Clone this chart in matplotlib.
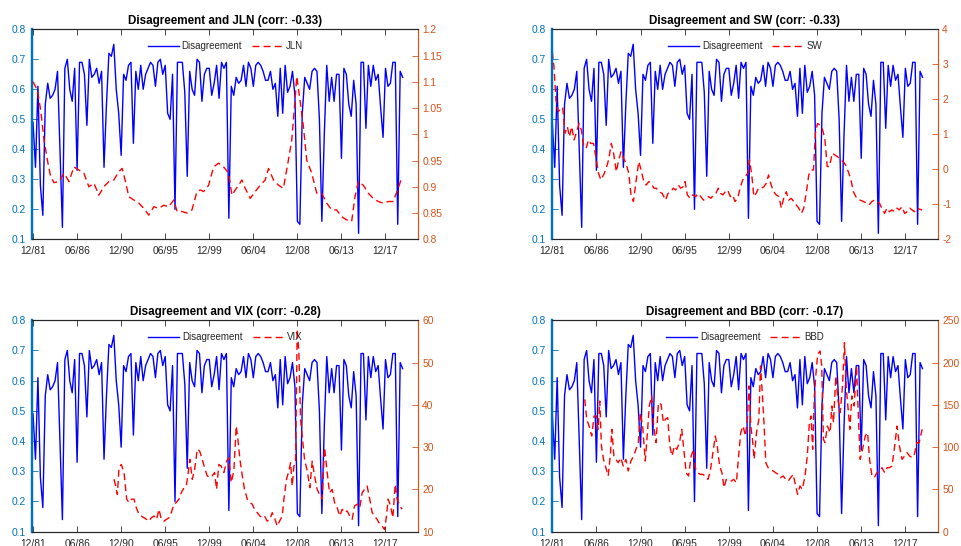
import numpy as np
import matplotlib
matplotlib.use("Agg")
import matplotlib.pyplot as plt
from matplotlib.ticker import FixedLocator, FuncFormatter

plt.rcParams['font.family'] = ['Liberation Sans', 'DejaVu Sans']

# ---- data -------------------------------------------------------------
# Quarterly disagreement index, starting December 1981
disagreement_start = 1981.917
disagreement = [
    0.49, 0.34, 0.61, 0.28, 0.18, 0.55, 0.62, 0.57, 0.58, 0.60,
    0.66, 0.40, 0.14, 0.67, 0.70, 0.60, 0.56, 0.67, 0.33, 0.69,
    0.69, 0.65, 0.48, 0.70, 0.64, 0.65, 0.67, 0.62, 0.66, 0.34,
    0.55, 0.72, 0.71, 0.75, 0.60, 0.52, 0.38, 0.65, 0.63, 0.68,
    0.69, 0.42, 0.66, 0.60, 0.68, 0.60, 0.65, 0.67, 0.69, 0.68,
    0.61, 0.69, 0.70, 0.65, 0.68, 0.52, 0.50, 0.65, 0.20, 0.69,
    0.69, 0.69, 0.59, 0.31, 0.66, 0.60, 0.58, 0.70, 0.69, 0.56,
    0.65, 0.67, 0.67, 0.58, 0.62, 0.68, 0.57, 0.69, 0.67, 0.69,
    0.17, 0.61, 0.58, 0.64, 0.62, 0.63, 0.68, 0.61, 0.69, 0.67,
    0.61, 0.68, 0.69, 0.68, 0.66, 0.63, 0.63, 0.66, 0.60, 0.62,
    0.51, 0.67, 0.52, 0.68, 0.59, 0.61, 0.66, 0.58, 0.16, 0.15,
    0.52, 0.64, 0.62, 0.60, 0.66, 0.67, 0.66, 0.50, 0.16, 0.45,
    0.68, 0.56, 0.64, 0.56, 0.65, 0.65, 0.37, 0.67, 0.65, 0.55,
    0.51, 0.63, 0.55, 0.12, 0.69, 0.69, 0.47, 0.68, 0.61, 0.68,
    0.63, 0.65, 0.54, 0.44, 0.67, 0.61, 0.62, 0.69, 0.69, 0.15,
    0.66, 0.64,
]

jln_dates = [
    1981.92, 1982.36, 1982.70, 1983.04, 1983.38, 1983.72, 1984.06, 1984.57,
    1985.08, 1985.59, 1986.09, 1986.60, 1987.11, 1987.62, 1988.13, 1988.64,
    1989.15, 1989.66, 1990.17, 1990.68, 1991.02, 1991.36, 1991.70, 1992.21,
    1992.72, 1993.23, 1993.74, 1994.25, 1994.76, 1995.27, 1995.78, 1996.29,
    1996.63, 1997.13, 1997.64, 1998.15, 1998.66, 1999.00, 1999.34, 1999.85,
    2000.36, 2000.87, 2001.38, 2001.89, 2002.23, 2002.57, 2002.91, 2003.25,
    2003.59, 2004.10, 2004.61, 2005.12, 2005.63, 2005.97, 2006.48, 2006.99,
    2007.49, 2008.00, 2008.34, 2008.68, 2008.85, 2009.19, 2009.53, 2009.87,
    2010.38, 2010.89, 2011.40, 2011.91, 2012.42, 2012.93, 2013.44, 2013.95,
    2014.46, 2014.80, 2015.14, 2015.65, 2016.16, 2016.66, 2017.17, 2017.68,
    2018.19, 2018.70, 2019.21, 2019.55,
]
jln = [
    1.100, 1.084, 1.046, 0.989, 0.951, 0.919, 0.908, 0.910,
    0.926, 0.910, 0.938, 0.932, 0.926, 0.900, 0.907, 0.884,
    0.900, 0.910, 0.913, 0.929, 0.935, 0.910, 0.881, 0.875,
    0.869, 0.859, 0.846, 0.862, 0.859, 0.865, 0.862, 0.875,
    0.853, 0.853, 0.850, 0.856, 0.891, 0.894, 0.891, 0.903,
    0.938, 0.945, 0.938, 0.926, 0.884, 0.894, 0.903, 0.913,
    0.897, 0.878, 0.891, 0.903, 0.913, 0.935, 0.913, 0.903,
    0.897, 0.951, 0.989, 1.065, 1.110, 1.065, 1.015, 0.951,
    0.926, 0.888, 0.888, 0.869, 0.856, 0.856, 0.843, 0.837,
    0.834, 0.881, 0.910, 0.903, 0.888, 0.878, 0.872, 0.869,
    0.872, 0.872, 0.897, 0.916,
]

sw_dates = [
    1981.92, 1982.09, 1982.29, 1982.53, 1982.77, 1982.98, 1983.22, 1983.46,
    1983.66, 1983.90, 1984.14, 1984.41, 1984.65, 1984.89, 1985.13, 1985.37,
    1985.61, 1985.85, 1986.12, 1986.36, 1986.63, 1986.87, 1987.15, 1987.42,
    1987.66, 1987.94, 1988.17, 1988.45, 1988.69, 1988.93, 1989.20, 1989.44,
    1989.71, 1989.95, 1990.19, 1990.43, 1990.74, 1990.98, 1991.25, 1991.49,
    1991.76, 1992.00, 1992.28, 1992.52, 1992.79, 1993.13, 1993.47, 1993.71,
    1993.98, 1994.26, 1994.50, 1994.77, 1995.01, 1995.25, 1995.46, 1995.69,
    1995.97, 1996.24, 1996.55, 1996.79, 1997.06, 1997.34, 1997.58, 1997.85,
    1998.09, 1998.36, 1998.60, 1998.84, 1999.08, 1999.32, 1999.56, 1999.80,
    2000.07, 2000.31, 2000.55, 2000.82, 2001.10, 2001.34, 2001.58, 2001.85,
    2002.02, 2002.26, 2002.47, 2002.70, 2002.94, 2003.22, 2003.49, 2003.73,
    2003.97, 2004.24, 2004.48, 2004.75, 2005.03, 2005.27, 2005.51, 2005.78,
    2006.02, 2006.29, 2006.53, 2006.81, 2007.05, 2007.32, 2007.56, 2007.83,
    2008.07, 2008.34, 2008.55, 2008.75, 2008.96, 2009.20, 2009.44, 2009.71,
    2009.95, 2010.19, 2010.46, 2010.74, 2011.01, 2011.28, 2011.59, 2011.83,
    2012.10, 2012.34, 2012.62, 2012.96, 2013.30, 2013.64, 2013.98, 2014.22,
    2014.50, 2014.77, 2015.04, 2015.28, 2015.52, 2015.80, 2016.04, 2016.28,
    2016.55, 2016.82, 2017.06, 2017.30, 2017.58, 2017.85, 2018.09, 2018.36,
    2018.60, 2018.84, 2019.11, 2019.35, 2019.63,
]
sw = [
    3.36, 2.93, 1.98, 1.65, 1.74, 1.77, 1.03, 1.22,
    0.93, 1.22, 0.84, 1.08, 1.31, 1.12, 0.65, 0.60,
    0.84, 0.74, 0.74, 0.36, -0.11, -0.30, -0.16, 0.03,
    0.27, 0.74, 0.46, -0.07, 0.27, 0.50, 0.31, 0.17,
    -0.11, -0.73, -0.92, -0.40, 0.22, -0.02, -0.35, -0.45,
    -0.35, -0.40, -0.54, -0.54, -0.64, -0.69, -0.88, -0.69,
    -0.64, -0.54, -0.59, -0.45, -0.54, -0.50, -0.35, -0.73,
    -0.83, -0.73, -0.78, -0.69, -0.78, -0.88, -0.83, -0.78,
    -0.83, -0.73, -0.69, -0.54, -0.69, -0.73, -0.64, -0.59,
    -0.78, -0.73, -0.92, -0.83, -0.50, -0.30, -0.21, -0.11,
    0.27, -0.16, -0.78, -0.69, -0.54, -0.54, -0.50, -0.40,
    -0.16, -0.45, -0.64, -0.73, -0.78, -1.11, -0.83, -0.64,
    -0.88, -0.83, -0.92, -1.02, -1.11, -1.26, -1.11, -0.64,
    -0.16, -0.02, -0.02, 1.03, 1.31, 1.26, 1.17, 0.88,
    0.08, 0.08, 0.46, 0.41, 0.36, 0.27, 0.22, 0.12,
    -0.07, -0.26, -0.64, -0.83, -0.88, -0.92, -0.97, -1.02,
    -0.92, -0.88, -0.92, -0.97, -1.11, -1.26, -1.11, -1.21,
    -1.16, -1.21, -1.11, -1.16, -1.07, -1.26, -1.21, -1.11,
    -1.16, -1.21, -1.11, -1.14, -1.16,
]

vix_dates = [
    1990.19, 1990.36, 1990.53, 1990.70, 1990.93, 1991.21, 1991.48, 1991.72,
    1991.99, 1992.23, 1992.46, 1992.74, 1992.98, 1993.25, 1993.52, 1993.76,
    1994.00, 1994.27, 1994.54, 1994.78, 1995.02, 1995.29, 1995.53, 1995.80,
    1996.04, 1996.31, 1996.55, 1996.82, 1997.06, 1997.33, 1997.57, 1997.77,
    1997.94, 1998.18, 1998.42, 1998.69, 1998.93, 1999.20, 1999.44, 1999.71,
    1999.98, 2000.22, 2000.46, 2000.66, 2000.90, 2001.14, 2001.41, 2001.69,
    2001.92, 2002.16, 2002.43, 2002.67, 2002.84, 2003.05, 2003.29, 2003.52,
    2003.80, 2004.07, 2004.31, 2004.54, 2004.82, 2005.09, 2005.33, 2005.56,
    2005.84, 2006.11, 2006.35, 2006.58, 2006.86, 2007.10, 2007.37, 2007.54,
    2007.81, 2008.05, 2008.22, 2008.39, 2008.56, 2008.73, 2008.90, 2009.07,
    2009.24, 2009.41, 2009.65, 2009.92, 2010.19, 2010.43, 2010.67, 2010.94,
    2011.18, 2011.45, 2011.69, 2011.96, 2012.20, 2012.47, 2012.71, 2012.98,
    2013.25, 2013.49, 2013.73, 2014.00, 2014.27, 2014.51, 2014.75, 2015.02,
    2015.29, 2015.53, 2015.77, 2016.04, 2016.31, 2016.55, 2016.79, 2017.06,
    2017.34, 2017.58, 2017.81, 2018.02, 2018.19, 2018.43, 2018.67, 2018.91,
    2019.11, 2019.38, 2019.62,
]
vix = [
    22.4, 20.8, 18.8, 25.1, 25.9, 24.0, 17.7, 16.9,
    17.7, 17.7, 15.7, 14.1, 13.7, 13.3, 12.9, 12.5,
    13.3, 13.7, 12.9, 15.3, 12.9, 12.5, 12.9, 13.3,
    14.5, 16.5, 16.9, 17.7, 19.2, 20.4, 20.8, 24.0,
    27.1, 22.4, 24.7, 29.5, 29.1, 27.1, 25.1, 23.2,
    22.8, 23.2, 24.0, 20.0, 25.9, 25.5, 24.0, 26.7,
    27.5, 21.6, 24.4, 35.0, 31.8, 27.1, 23.2, 20.0,
    17.7, 16.9, 16.5, 15.3, 14.5, 13.7, 13.3, 13.7,
    12.5, 12.9, 14.5, 13.3, 11.3, 12.5, 13.7, 17.7,
    22.4, 24.4, 26.3, 20.8, 25.5, 26.3, 57.9, 52.4,
    36.6, 32.6, 27.1, 24.4, 20.4, 26.7, 23.2, 20.0,
    18.8, 17.7, 29.9, 24.0, 19.2, 20.0, 16.9, 15.7,
    13.7, 15.3, 14.5, 14.9, 13.7, 12.9, 16.1, 16.5,
    15.7, 19.2, 20.0, 20.8, 17.7, 14.5, 13.7, 12.9,
    11.7, 11.3, 10.5, 13.7, 17.7, 16.1, 13.3, 21.2,
    17.7, 16.1, 15.3,
]

bbd_dates = [
    1985.23, 1985.43, 1985.67, 1985.94, 1986.18, 1986.42, 1986.59, 1986.76,
    1986.93, 1987.14, 1987.38, 1987.62, 1987.86, 1987.99, 1988.20, 1988.40,
    1988.64, 1988.91, 1989.15, 1989.42, 1989.66, 1989.94, 1990.21, 1990.45,
    1990.69, 1990.89, 1991.13, 1991.40, 1991.57, 1991.81, 1992.05, 1992.26,
    1992.50, 1992.74, 1993.01, 1993.25, 1993.45, 1993.69, 1993.90, 1994.13,
    1994.37, 1994.61, 1994.89, 1995.12, 1995.33, 1995.57, 1995.81, 1996.08,
    1996.32, 1996.49, 1996.76, 1997.00, 1997.27, 1997.52, 1997.79, 1998.03,
    1998.30, 1998.54, 1998.74, 1998.98, 1999.22, 1999.43, 1999.66, 1999.90,
    2000.18, 2000.41, 2000.69, 2000.86, 2001.13, 2001.37, 2001.61, 2001.81,
    2001.99, 2002.16, 2002.33, 2002.50, 2002.74, 2002.98, 2003.15, 2003.35,
    2003.52, 2003.69, 2003.93, 2004.17, 2004.44, 2004.68, 2004.96, 2005.19,
    2005.47, 2005.71, 2005.98, 2006.22, 2006.49, 2006.73, 2006.93, 2007.17,
    2007.41, 2007.69, 2007.92, 2008.13, 2008.30, 2008.47, 2008.64, 2008.81,
    2008.98, 2009.22, 2009.39, 2009.56, 2009.73, 2009.97, 2010.25, 2010.42,
    2010.59, 2010.83, 2011.03, 2011.27, 2011.51, 2011.71, 2011.88, 2012.05,
    2012.26, 2012.46, 2012.70, 2012.94, 2013.14, 2013.31, 2013.55, 2013.83,
    2014.07, 2014.27, 2014.51, 2014.75, 2015.02, 2015.26, 2015.53, 2015.81,
    2016.05, 2016.29, 2016.56, 2016.83, 2017.07, 2017.31, 2017.58, 2017.85,
    2018.09, 2018.36, 2018.63, 2018.84, 2019.09, 2019.33, 2019.63,
]
bbd = [
    156.5, 132.9, 125.0, 113.2, 136.8, 136.8, 121.1, 154.6,
    101.3, 85.6, 75.7, 65.9, 93.5, 121.1, 89.5, 85.6,
    81.6, 87.5, 77.7, 85.6, 71.8, 83.6, 89.5, 97.4,
    105.3, 140.8, 125.0, 83.6, 109.2, 148.7, 160.5, 125.0,
    105.3, 152.6, 150.6, 128.9, 132.9, 134.9, 101.3, 89.5,
    101.3, 97.4, 105.3, 121.1, 97.4, 69.8, 65.9, 89.5,
    97.4, 75.7, 69.8, 67.8, 67.8, 65.9, 61.9, 71.8,
    93.5, 113.2, 101.3, 77.7, 69.8, 52.1, 61.9, 59.9,
    59.9, 61.9, 58.0, 81.6, 117.1, 125.0, 113.2, 132.9,
    172.3, 125.0, 109.2, 85.6, 117.1, 132.9, 196.0, 160.5,
    125.0, 81.6, 75.7, 73.7, 71.8, 69.8, 67.8, 63.9,
    65.9, 61.9, 59.9, 63.9, 67.8, 54.0, 44.2, 54.0,
    50.1, 65.9, 89.5, 128.9, 136.8, 97.4, 160.5, 188.1,
    209.8, 213.7, 196.0, 109.2, 105.3, 125.0, 117.1, 148.7,
    128.9, 184.1, 156.5, 140.8, 172.3, 223.6, 172.3, 148.7,
    121.1, 160.5, 148.7, 196.0, 132.9, 85.6, 97.4, 113.2,
    117.1, 85.6, 65.9, 63.9, 69.8, 71.8, 75.7, 69.8,
    75.7, 75.7, 77.7, 101.3, 125.0, 101.3, 85.6, 89.5,
    93.5, 89.5, 87.5, 91.5, 105.3, 105.3, 121.1,
]

# Tick labels of the shared date axis (every 4.5 years from Dec 1981)
date_tick_labels = ['12/81', '06/86', '12/90', '06/95', '12/99',
                    '06/04', '12/08', '06/13', '12/17']

panels = [
    ('JLN', -0.33, jln_dates, jln, (0.8, 1.2), np.arange(0.8, 1.2001, 0.05)),
    ('SW', -0.33, sw_dates, sw, (-2, 4), np.arange(-2, 4.01, 1)),
    ('VIX', -0.28, vix_dates, vix, (10, 60), np.arange(10, 60.1, 10)),
    ('BBD', -0.17, bbd_dates, bbd, (0, 250), np.arange(0, 250.1, 50)),
]

# ---- styling ----------------------------------------------------------
LEFT_C = (0.0, 0.447, 0.741)
RIGHT_C = (0.85, 0.325, 0.098)
AX_C = (0.15, 0.15, 0.15)
FS = 7.4

fig = plt.figure(figsize=(9.61, 5.46), dpi=100)

positions = [
    (0.0338, 0.5617, 0.4013, 0.3846),
    (0.5741, 0.5617, 0.4020, 0.3846),
    (0.0338, 0.0262, 0.4013, 0.3872),
    (0.5741, 0.0262, 0.4020, 0.3872),
]

q_dates = disagreement_start + 0.25 * np.arange(len(disagreement))
tick_pos = [disagreement_start + 4.5 * k for k in range(len(date_tick_labels))]


def fmt_num(v, _pos=None):
    s = f"{v:.2f}".rstrip('0').rstrip('.')
    return '0' if s in ('-0', '') else s


for (name, corr, rdates, rvals, rlim, rticks), pos in zip(panels, positions):
    ax = fig.add_axes(pos)
    ax.plot(q_dates, disagreement, color='b', lw=1.0, label='Disagreement')
    ax.set_ylim(0.1, 0.8)
    ax.set_yticks(np.arange(0.1, 0.801, 0.1))
    ax.yaxis.set_major_formatter(FuncFormatter(fmt_num))
    ax.set_xlim(1981.86, 2021.25)
    ax.set_xticks(tick_pos)
    ax.set_xticklabels(date_tick_labels)

    ax2 = ax.twinx()
    ax2.plot(rdates, rvals, color='r', lw=1.0, linestyle=(0, (5.0, 3.0)),
             label=name)
    ax2.set_ylim(*rlim)
    ax2.yaxis.set_major_locator(FixedLocator(rticks))
    ax2.yaxis.set_major_formatter(FuncFormatter(fmt_num))
    ax2.set_xlim(1981.86, 2021.25)

    for a in (ax, ax2):
        for sp in a.spines.values():
            sp.set_linewidth(0.8)
            sp.set_color(AX_C)
        a.spines['left'].set_color(LEFT_C)
        a.spines['left'].set_linewidth(1.6)
        a.spines['right'].set_color(RIGHT_C)
        a.spines['right'].set_linewidth(0.8)

    ax.tick_params(axis='x', direction='in', top=True, length=4, width=0.6,
                   color=AX_C, labelcolor=AX_C, labelsize=FS, pad=5)
    ax.tick_params(axis='y', direction='in', length=4, width=0.6,
                   color=LEFT_C, labelcolor=LEFT_C, labelsize=FS, pad=4.5)
    ax2.tick_params(axis='y', direction='in', length=4, width=0.6,
                    color=RIGHT_C, labelcolor=RIGHT_C, labelsize=FS, pad=3)

    ax.set_title(f"Disagreement and {name} (corr: {corr:.2f})",
                 fontsize=8.4, fontweight='bold', color='k', pad=3.5)

    h1, l1 = ax.get_legend_handles_labels()
    h2, l2 = ax2.get_legend_handles_labels()
    ax2.legend(h1 + h2, l1 + l2, loc='upper center', ncol=2, frameon=False,
               fontsize=7.0, handlelength=3.2, handletextpad=0.3,
               columnspacing=1.0, borderaxespad=0.85,
               labelcolor=AX_C)

fig.savefig('out.png', dpi=100)
